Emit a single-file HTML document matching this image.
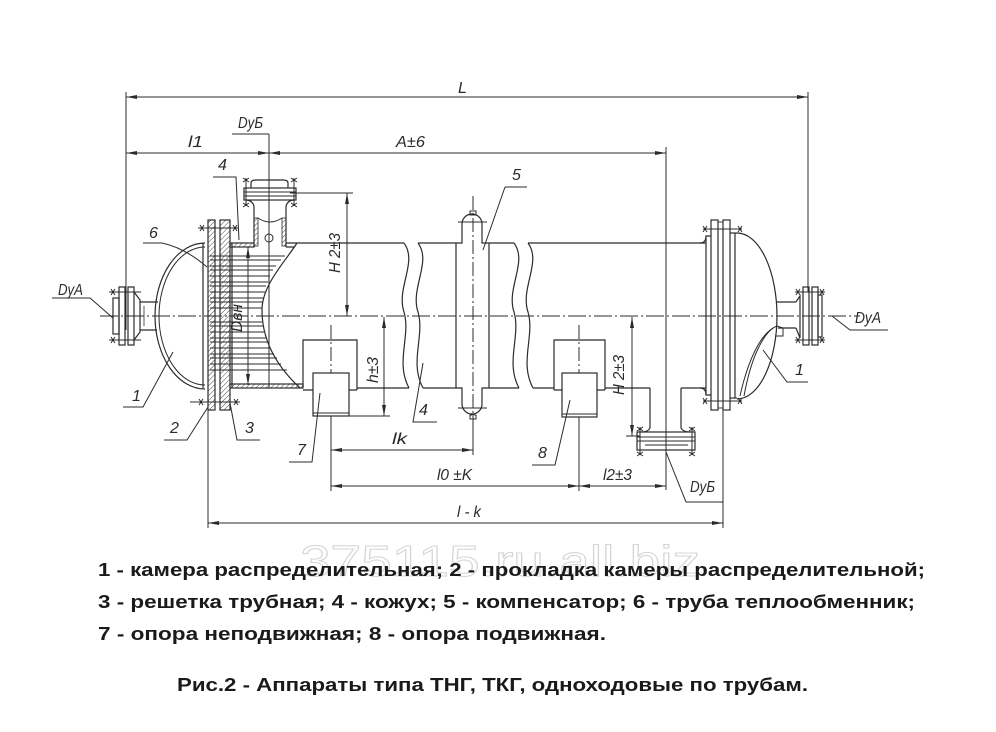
<!DOCTYPE html>
<html><head><meta charset="utf-8">
<style>
html,body{margin:0;padding:0;background:#fff;}
body{width:996px;height:732px;overflow:hidden;}
svg{display:block;}
</style></head>
<body>
<svg width="996" height="732" viewBox="0 0 996 732" xmlns="http://www.w3.org/2000/svg">
<defs>
  <pattern id="h" width="3.5" height="3.5" patternUnits="userSpaceOnUse" patternTransform="rotate(45)">
    <line x1="0" y1="0" x2="0" y2="3.5" stroke="#333" stroke-width="0.9"/>
  </pattern>
  <marker id="ar" markerWidth="11" markerHeight="4" refX="11" refY="2" orient="auto-start-reverse" markerUnits="userSpaceOnUse">
    <path d="M0,0 L11,2 L0,4 z" fill="#2b2b2b"/>
  </marker>
</defs>
<rect width="996" height="732" fill="#fff"/>

<!-- watermark -->
<text x="300" y="576" font-family="Liberation Sans, sans-serif" font-size="44" fill="none" stroke="#d4d4d4" stroke-width="1" textLength="400" lengthAdjust="spacingAndGlyphs">375115.ru.all.biz</text>

<g stroke="#2b2b2b" fill="none" stroke-width="1.2">
  <!-- centerline -->
  <line x1="100" y1="316" x2="860" y2="316" stroke-width="1" stroke-dasharray="18 3 2 3"/>

  <!-- dimension extension lines -->
  <g stroke-width="1">
    <line x1="126" y1="92" x2="126" y2="330"/>
    <line x1="808" y1="92" x2="808" y2="292"/>
    <line x1="269" y1="134" x2="269" y2="388"/>
    <line x1="666" y1="147" x2="666" y2="490"/>
    <line x1="290" y1="193" x2="353" y2="193"/>
    <line x1="208" y1="410" x2="208" y2="528"/>
    <line x1="723" y1="410" x2="723" y2="528"/>
    <line x1="331" y1="392" x2="331" y2="491"/>
    <line x1="579" y1="392" x2="579" y2="491"/>
    <line x1="473" y1="418" x2="473" y2="455"/>
    <line x1="349" y1="416" x2="390" y2="416"/>
    <line x1="626" y1="436" x2="640" y2="436"/>
  </g>
  <!-- dimension lines with arrows -->
  <g stroke-width="1" marker-start="url(#ar)" marker-end="url(#ar)">
    <line x1="126" y1="97" x2="808" y2="97"/>
    <line x1="126" y1="153" x2="269" y2="153"/>
    <line x1="269" y1="153" x2="666" y2="153"/>
    <line x1="347" y1="193" x2="347" y2="316"/>
    <line x1="632" y1="317" x2="632" y2="436"/>
    <line x1="248" y1="247" x2="248" y2="385"/>
    <line x1="384" y1="317" x2="384" y2="416"/>
    <line x1="331" y1="450" x2="473" y2="450"/>
    <line x1="331" y1="486" x2="579" y2="486"/>
    <line x1="579" y1="486" x2="666" y2="486"/>
    <line x1="208" y1="523" x2="723" y2="523"/>
  </g>

  <!-- centerlines of supports / compensator / nozzles -->
  <g stroke-width="1" stroke-dasharray="14 3 2 3">
    <line x1="331" y1="325" x2="331" y2="392"/>
    <line x1="579" y1="325" x2="579" y2="392"/>
    <line x1="473" y1="196" x2="473" y2="420"/>
    <line x1="666" y1="390" x2="666" y2="455"/>
  </g>

  <!-- LEFT DyA nozzle -->
  <line x1="140" y1="302" x2="158" y2="302"/>
  <line x1="140" y1="330" x2="157" y2="330"/>
  <line x1="144" y1="306" x2="144" y2="326" stroke-width="0.8"/>
  <rect x="113" y="298" width="6" height="36"/>
  <rect x="119" y="287" width="6" height="58"/>
  <rect x="128" y="287" width="6" height="58"/>
  <path d="M134 292 L140 300 L140 332 L134 340"/>
  <g stroke-width="1">
    <line x1="109" y1="292" x2="141" y2="292"/>
    <line x1="109" y1="340" x2="141" y2="340"/>
    <path d="M111 289 l4 6 M115 289 l-4 6 M111 337 l4 6 M115 337 l-4 6"/>
  </g>

  <!-- LEFT head (distribution chamber) -->
  <path d="M205 243 A50 73 0 0 0 205 389"/>
  <path d="M205 247 A46 69 0 0 0 205 385" stroke-width="1"/>
  <line x1="203" y1="243" x2="203" y2="388"/>
  <!-- chamber flange & tubesheet -->
  <rect x="208" y="220" width="7" height="190" fill="url(#h)"/>
  <rect x="220" y="220" width="10" height="190" fill="url(#h)"/>
  <line x1="232" y1="243" x2="232" y2="388"/>
  <g stroke-width="1">
    <line x1="198" y1="228" x2="238" y2="228"/>
    <path d="M200 225 l4 6 M204 225 l-4 6 M233 225 l4 6 M237 225 l-4 6"/>
    <line x1="190" y1="402" x2="240" y2="402"/>
    <path d="M199 399 l4 6 M203 399 l-4 6 M234 399 l4 6 M238 399 l-4 6"/>
  </g>
  <!-- shell walls section -->
  <rect x="230" y="243" width="24" height="4" fill="url(#h)"/>
  <path d="M286 243 L297 243 M286 247 L294 247" />
  <rect x="230" y="384" width="73" height="4" fill="url(#h)"/>
  <!-- break curve left section -->
  <path d="M297 243 C285 262 262 285 262 310 C262 335 272 362 300 388"/>
  <!-- tubes -->
  <g stroke-width="0.9">
    <line x1="210" y1="256" x2="285" y2="256"/>
    <line x1="210" y1="260" x2="281" y2="260"/>
    <line x1="210" y1="266" x2="276" y2="266"/>
    <line x1="210" y1="270" x2="273" y2="270"/>
    <line x1="210" y1="276" x2="270" y2="276"/>
    <line x1="210" y1="282" x2="268" y2="282"/>
    <line x1="210" y1="286" x2="266" y2="286"/>
    <line x1="210" y1="292" x2="265" y2="292"/>
    <line x1="210" y1="298" x2="263" y2="298"/>
    <line x1="210" y1="302" x2="263" y2="302"/>
    <line x1="210" y1="308" x2="262" y2="308"/>
    <line x1="210" y1="322" x2="262" y2="322"/>
    <line x1="210" y1="326" x2="263" y2="326"/>
    <line x1="210" y1="332" x2="264" y2="332"/>
    <line x1="210" y1="338" x2="266" y2="338"/>
    <line x1="210" y1="342" x2="268" y2="342"/>
    <line x1="210" y1="348" x2="270" y2="348"/>
    <line x1="210" y1="354" x2="274" y2="354"/>
    <line x1="210" y1="358" x2="277" y2="358"/>
    <line x1="210" y1="364" x2="281" y2="364"/>
    <line x1="210" y1="370" x2="287" y2="370"/>
  </g>

  <!-- TOP DyБ nozzle -->
  <line x1="254" y1="206" x2="254" y2="247"/>
  <line x1="286" y1="206" x2="286" y2="247"/>
  <rect x="254" y="218" width="4" height="28" fill="url(#h)" stroke-width="0.8"/>
  <rect x="282" y="218" width="4" height="28" fill="url(#h)" stroke-width="0.8"/>
  <path d="M258 218 Q270 226 282 218" stroke-width="0.9"/>
  <circle cx="269" cy="238" r="4" stroke-width="1"/>
  <path d="M254 206 Q252 200 246 200 M286 206 Q288 200 294 200"/>
  <rect x="244" y="188" width="52" height="12"/>
  <line x1="244" y1="192" x2="296" y2="192" stroke-width="0.9"/>
  <line x1="244" y1="196" x2="296" y2="196" stroke-width="0.9"/>
  <path d="M251 188 L251 183 Q251 180 256 180 L283 180 Q288 180 288 183 L288 188"/>
  <g stroke-width="1">
    <line x1="246" y1="178" x2="246" y2="206"/>
    <line x1="294" y1="178" x2="294" y2="206"/>
    <path d="M243 178 l6 4 M249 178 l-6 4 M291 178 l6 4 M297 178 l-6 4 M243 203 l6 4 M249 203 l-6 4 M291 203 l6 4 M297 203 l-6 4"/>
  </g>

  <!-- SHELL external -->
  <line x1="297" y1="243" x2="404" y2="243"/>
  <line x1="418" y1="243" x2="456" y2="243"/>
  <line x1="489" y1="243" x2="514" y2="243"/>
  <line x1="528" y1="243" x2="706" y2="243"/>
  <line x1="357" y1="388" x2="409" y2="388"/>
  <line x1="423" y1="388" x2="456" y2="388"/>
  <line x1="489" y1="388" x2="519" y2="388"/>
  <line x1="533" y1="388" x2="554" y2="388"/>
  <line x1="605" y1="388" x2="650" y2="388"/>
  <line x1="681" y1="388" x2="706" y2="388"/>
  <!-- break lines -->
  <path d="M404 243 C418 262 396 288 404 312 C411 336 395 362 409 388"/>
  <path d="M418 243 C432 262 410 288 418 312 C425 336 409 362 423 388"/>
  <path d="M514 243 C528 262 506 288 514 312 C521 336 505 362 519 388"/>
  <path d="M528 243 C542 262 520 288 528 312 C535 336 519 362 533 388"/>

  <!-- compensator -->
  <line x1="456" y1="243" x2="456" y2="388"/>
  <line x1="489" y1="243" x2="489" y2="388"/>
  <path d="M456 243 L462 243 L462 224 A10 10 0 0 1 482 224 L482 243 L489 243"/>
  <path d="M456 388 L462 388 L462 404 A10 10 0 0 0 482 404 L482 388 L489 388"/>
  <line x1="458" y1="222" x2="487" y2="222" stroke-width="1"/>
  <line x1="458" y1="408" x2="487" y2="408" stroke-width="1"/>
  <rect x="470" y="211" width="6" height="4" stroke-width="1"/>
  <rect x="470" y="415" width="6" height="4" stroke-width="1"/>

  <!-- support 7 -->
  <path d="M303 388 L303 340 L357 340 L357 390"/>
  <path d="M303 390 L313 390 M349 390 L357 390"/>
  <rect x="313" y="373" width="36" height="43" fill="#fff"/>
  <line x1="313" y1="413" x2="349" y2="413" stroke-width="1"/>
  <!-- support 8 -->
  <path d="M554 390 L554 340 L605 340 L605 390"/>
  <path d="M554 390 L562 390 M597 390 L605 390"/>
  <rect x="562" y="373" width="35" height="44" fill="#fff"/>
  <line x1="562" y1="414" x2="597" y2="414" stroke-width="1"/>

  <!-- bottom DyБ nozzle -->
  <line x1="650" y1="388" x2="650" y2="428"/>
  <line x1="681" y1="388" x2="681" y2="428"/>
  <path d="M650 428 Q648 432 642 432 M681 428 Q683 432 690 432"/>
  <rect x="637" y="432" width="58" height="18"/>
  <line x1="637" y1="437" x2="695" y2="437" stroke-width="0.9"/>
  <line x1="637" y1="441" x2="695" y2="441" stroke-width="0.9"/>
  <line x1="645" y1="445" x2="688" y2="445" stroke-width="0.9"/>
  <g stroke-width="1">
    <line x1="640" y1="427" x2="640" y2="455"/>
    <line x1="692" y1="427" x2="692" y2="455"/>
    <path d="M637 427 l6 4 M643 427 l-6 4 M689 427 l6 4 M695 427 l-6 4 M637 452 l6 4 M643 452 l-6 4 M689 452 l6 4 M695 452 l-6 4"/>
  </g>

  <!-- RIGHT end: flanges -->
  <path d="M700 243 Q706 243 706 236 L711 236 M700 388 Q706 388 706 395 L711 395"/>
  <line x1="706" y1="236" x2="706" y2="395"/>
  <rect x="711" y="220" width="7" height="190"/>
  <rect x="723" y="220" width="7" height="190"/>
  <line x1="718" y1="222" x2="723" y2="222" stroke-width="0.9"/>
  <line x1="718" y1="408" x2="723" y2="408" stroke-width="0.9"/>
  <line x1="735" y1="233" x2="735" y2="398"/>
  <line x1="730" y1="233" x2="737" y2="233"/>
  <line x1="730" y1="398" x2="737" y2="398"/>
  <g stroke-width="1">
    <line x1="703" y1="229" x2="742" y2="229"/>
    <line x1="703" y1="401" x2="742" y2="401"/>
    <path d="M703 226 l4 6 M707 226 l-4 6 M738 226 l4 6 M742 226 l-4 6 M703 398 l4 6 M707 398 l-4 6 M738 398 l4 6 M742 398 l-4 6"/>
  </g>
  <!-- right head -->
  <path d="M737 233 A40 83 0 0 1 737 399"/>
  <path d="M777 326 C766 330 752 352 744 396" stroke-width="1"/>
  <path d="M773 328 C760 336 748 360 740 396" stroke-width="1"/>
  <path d="M777 326 L783 328 L783 336 L775 336" stroke-width="1"/>
  <!-- right DyA nozzle -->
  <line x1="777" y1="302" x2="796" y2="302"/>
  <line x1="778" y1="328" x2="796" y2="328"/>
  <path d="M796 302 L800 296 L800 338 L796 328"/>
  <rect x="803" y="287" width="6" height="58"/>
  <rect x="812" y="287" width="6" height="58"/>
  <rect x="818" y="295" width="4" height="42"/>
  <g stroke-width="1">
    <line x1="795" y1="292" x2="825" y2="292"/>
    <line x1="795" y1="340" x2="825" y2="340"/>
    <path d="M796 289 l4 6 M800 289 l-4 6 M820 289 l4 6 M824 289 l-4 6 M796 337 l4 6 M800 337 l-4 6 M820 337 l4 6 M824 337 l-4 6"/>
  </g>

  <!-- leaders -->
  <g stroke-width="1">
    <path d="M232 134 L269 134"/>
    <path d="M213 177 L236 177 L239 240"/>
    <path d="M143 243 L162 243 Q185 248 207 267"/>
    <path d="M52 298 L90 298 L113 318"/>
    <path d="M505 187 L527 187 M505 187 L483 250"/>
    <path d="M123 407 L143 407 L173 352"/>
    <path d="M164 440 L187 440 L208 407"/>
    <path d="M260 440 L237 440 L230 403"/>
    <path d="M289 462 L312 462 L320 393"/>
    <path d="M437 422 L413 422 L423 363"/>
    <path d="M532 465 L555 465 L570 400"/>
    <path d="M666 452 L686 502 L723 502"/>
    <path d="M832 316 L850 330 L888 330"/>
    <path d="M763 350 L787 382 L808 382"/>
  </g>
</g>

<!-- drawing labels -->
<g font-family="Liberation Sans, sans-serif" font-style="italic" font-size="16" fill="#2b2b2b">
  <text x="458" y="93">L</text>
  <text x="188" y="147" textLength="15" lengthAdjust="spacingAndGlyphs">l1</text>
  <text x="396" y="147" textLength="29" lengthAdjust="spacingAndGlyphs">A±6</text>
  <text x="238" y="128" textLength="25" lengthAdjust="spacingAndGlyphs">DyБ</text>
  <text x="218" y="170">4</text>
  <text x="149" y="238">6</text>
  <text x="58" y="295" textLength="25" lengthAdjust="spacingAndGlyphs">DyA</text>
  <text x="512" y="180">5</text>
  <text transform="translate(340,253) rotate(-90)" text-anchor="middle" textLength="40" lengthAdjust="spacingAndGlyphs">H 2±3</text>
  <text transform="translate(242,318) rotate(-90)" text-anchor="middle" textLength="28" lengthAdjust="spacingAndGlyphs">Dвн</text>
  <text transform="translate(378,370) rotate(-90)" text-anchor="middle" textLength="26" lengthAdjust="spacingAndGlyphs">h±3</text>
  <text transform="translate(624,375) rotate(-90)" text-anchor="middle" textLength="40" lengthAdjust="spacingAndGlyphs">H 2±3</text>
  <text x="132" y="401">1</text>
  <text x="170" y="433">2</text>
  <text x="245" y="433">3</text>
  <text x="297" y="455">7</text>
  <text x="419" y="415">4</text>
  <text x="538" y="458">8</text>
  <text x="392" y="444" textLength="15" lengthAdjust="spacingAndGlyphs">lk</text>
  <text x="437" y="480" textLength="35" lengthAdjust="spacingAndGlyphs">l0 ±K</text>
  <text x="603" y="480" textLength="29" lengthAdjust="spacingAndGlyphs">l2±3</text>
  <text x="457" y="517" textLength="24" lengthAdjust="spacingAndGlyphs">l - k</text>
  <text x="690" y="492" textLength="25" lengthAdjust="spacingAndGlyphs">DyБ</text>
  <text x="855" y="323" textLength="26" lengthAdjust="spacingAndGlyphs">DyA</text>
  <text x="795" y="375">1</text>
</g>

<!-- legend -->
<g font-family="Liberation Sans, sans-serif" font-weight="bold" font-size="18" fill="#1a1a1a">
  <text x="98" y="576" textLength="827" lengthAdjust="spacingAndGlyphs">1 - камера распределительная; 2 - прокладка камеры распределительной;</text>
  <text x="98" y="608" textLength="817" lengthAdjust="spacingAndGlyphs">3 - решетка трубная; 4 - кожух; 5 - компенсатор; 6 - труба теплообменник;</text>
  <text x="98" y="640" textLength="508" lengthAdjust="spacingAndGlyphs">7 - опора неподвижная; 8 - опора подвижная.</text>
  <text x="177" y="691" textLength="631" lengthAdjust="spacingAndGlyphs">Рис.2 - Аппараты типа ТНГ, ТКГ, одноходовые по трубам.</text>
</g>
</svg>
</body></html>
